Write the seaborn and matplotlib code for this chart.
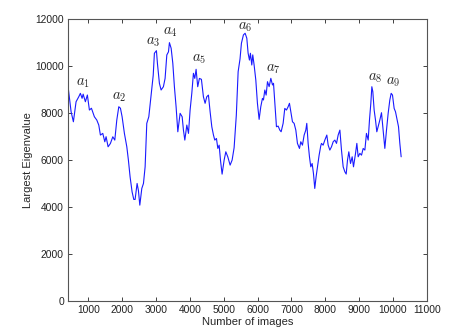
import matplotlib
matplotlib.use("Agg")
import matplotlib.pyplot as plt
import seaborn as sns
import pandas as pd

# Largest eigenvalue as the number of images grows
n_images = [
    400, 489, 557, 636, 716, 764, 814, 845, 911, 970, 1030, 1090, 1177, 1248,
    1307, 1355, 1425, 1485, 1523, 1582, 1650, 1721, 1780, 1839, 1898, 1947,
    1996, 2064, 2135, 2182, 2232, 2291, 2341, 2380, 2439, 2478, 2519, 2578,
    2627, 2676, 2725, 2785, 2840, 2915, 2950, 3010, 3040, 3098, 3148, 3216,
    3266, 3317, 3366, 3394, 3445, 3494, 3541, 3591, 3642, 3710, 3770, 3808,
    3849, 3908, 3957, 4005, 4055, 4103, 4143, 4182, 4230, 4280, 4339, 4398,
    4448, 4497, 4546, 4596, 4646, 4695, 4734, 4783, 4824, 4863, 4902, 4950,
    5010, 5060, 5118, 5187, 5246, 5305, 5370, 5424, 5480, 5521, 5580, 5630,
    5680, 5719, 5758, 5787, 5827, 5856, 5896, 5946, 5994, 6044, 6093, 6142,
    6172, 6212, 6251, 6291, 6340, 6390, 6439, 6469, 6508, 6556, 6606, 6655,
    6694, 6753, 6802, 6852, 6901, 6940, 6980, 7029, 7078, 7128, 7176, 7236,
    7275, 7324, 7374, 7423, 7452, 7492, 7531, 7570, 7610, 7649, 7688, 7727,
    7767, 7816, 7865, 7886, 7935, 7985, 8044, 8084, 8133, 8182, 8232, 8281,
    8330, 8379, 8430, 8477, 8527, 8577, 8616, 8655, 8694, 8744, 8793, 8832,
    8892, 8931, 8970, 9020, 9069, 9118, 9168, 9215, 9266, 9304, 9344, 9374,
    9403, 9442, 9482, 9521, 9560, 9610, 9659, 9708, 9758, 9807, 9856, 9905,
    9945, 9984, 10033, 10073, 10122, 10162, 10201, 10240,
]
largest_eig = [
    9116, 8052, 7625, 8477, 8690, 8835, 8622, 8800, 8477, 8763, 8124, 8200,
    7838, 7698, 7485, 7059, 7130, 6773, 6990, 6560, 6700, 6986, 6845, 7698,
    8264, 8200, 7838, 7130, 6560, 5994, 5282, 4643, 4320, 4320, 5000, 4700,
    4077, 4788, 5000, 5708, 7557, 7838, 8600, 9600, 10539, 10650, 10100, 9261,
    8976, 9116, 9470, 10467, 10600, 10991, 10750, 10113, 9116, 8264, 7199,
    7983, 7838, 7270, 6845, 7485, 7130, 8124, 8835, 9687, 9470, 9857, 9116,
    9470, 9430, 8690, 8410, 8690, 8760, 8052, 7413, 7059, 6845, 6915, 6492,
    6630, 5994, 5397, 5994, 6347, 6135, 5781, 5994, 6520, 7900, 9756, 10300,
    10965, 11320, 11390, 11180, 10539, 10250, 10539, 10040, 10470, 10040,
    9402, 8410, 7727, 8264, 8620, 8550, 8976, 8760, 9330, 9120, 9473, 9190,
    9260, 8410, 7413, 7440, 7270, 7200, 7557, 8193, 8124, 8264, 8410, 8050,
    7625, 7557, 7270, 6705, 6490, 6775, 6630, 7059, 7270, 7557, 6705, 6135,
    5708, 5850, 5427, 4788, 5282, 5708, 6200, 6600, 6705, 6630, 6845, 7059,
    6630, 6420, 6560, 6775, 6845, 6705, 7059, 7270, 6420, 5708, 5495, 5400,
    5994, 6347, 5850, 6135, 5708, 6280, 6705, 6135, 6280, 6205, 6490, 6420,
    7130, 6845, 7698, 8410, 9116, 8905, 8124, 7698, 7199, 7413, 7698, 8010,
    7270, 6492, 7270, 7983, 8550, 8835, 8760, 8193, 8050, 7698, 7413, 6705,
    6135,
]

# Peak annotations
peak_labels = [r"$a_1$", r"$a_2$", r"$a_3$", r"$a_4$", r"$a_5$",
               r"$a_6$", r"$a_7$", r"$a_8$", r"$a_9$"]
peak_x = [834, 1917, 2903, 3434, 4271, 5630, 6449, 9472, 10013]
peak_y = [9260, 8665, 11033, 11433, 10283, 11647, 9857, 9473, 9330]

x_ticks = list(range(1000, 11001, 1000))
y_ticks = list(range(0, 12001, 2000))

sns.set_style("ticks")
plt.rcParams["font.family"] = ["Liberation Sans", "DejaVu Sans"]
plt.rcParams["mathtext.fontset"] = "cm"

df = pd.DataFrame({"images": n_images, "eig": largest_eig})

fig = plt.figure(figsize=(4.6, 3.32), dpi=100)
ax = fig.add_axes([0.148, 0.0934, 0.78, 0.8496])

sns.lineplot(data=df, x="images", y="eig", ax=ax, color="#1a1aff",
             linewidth=0.8, estimator=None, sort=False)

for lab, lx, ly in zip(peak_labels, peak_x, peak_y):
    ax.text(lx, ly, lab, fontsize=10.5, ha="center", va="center")

ax.set_xlim(400, 11000)
ax.set_ylim(0, 12000)
ax.set_xticks(x_ticks)
ax.set_yticks(y_ticks)
ax.tick_params(direction="in", length=3, width=0.6, labelsize=7.4,
               top=True, right=True, colors="#222222", pad=3)
for s in ax.spines.values():
    s.set_visible(True)
    s.set_linewidth(0.8)
    s.set_color("#555555")

ax.set_xlabel("Number of images", fontsize=8, labelpad=1)
ax.set_ylabel("Largest Eigenvalue", fontsize=8, labelpad=2)

fig.savefig("out.png", dpi=100)
